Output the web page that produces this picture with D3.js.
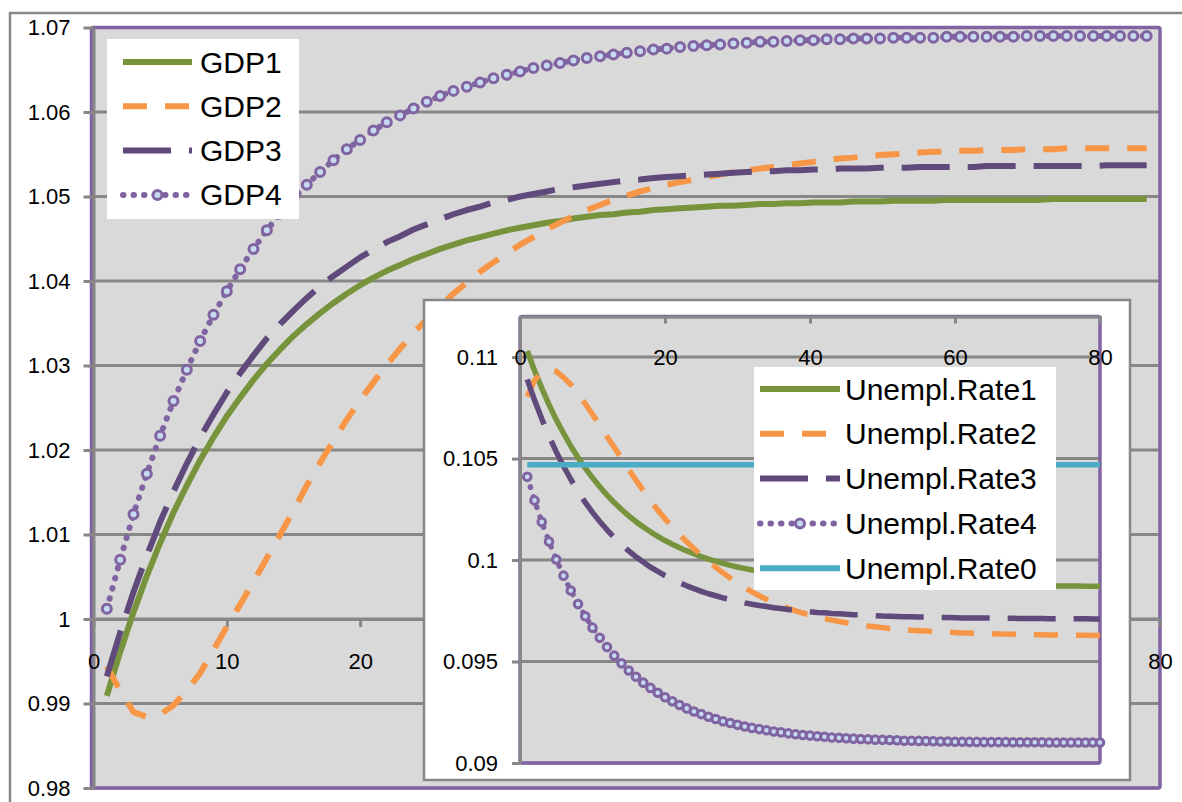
<!DOCTYPE html>
<html>
<head>
<meta charset="utf-8">
<script src="https://cdn.jsdelivr.net/npm/d3@7"></script>
<style>
  body { margin: 0; background: #fff; }
  svg { display: block; }
</style>
</head>
<body>
<svg id="chart"></svg>
<script>
// ---- data (period 1..79 for GDP, 1..80 for the unemployment inset)
const gdpNames = ["GDP1", "GDP2", "GDP3", "GDP4"]
const gdp1 = [0.9909,0.9961,1.0008,1.0051,1.0090,1.0126,1.0158,1.0188,1.0215,1.0240,
  1.0262,1.0283,1.0302,1.0319,1.0335,1.0349,1.0362,1.0374,1.0385,1.0395,
  1.0404,1.0412,1.0419,1.0426,1.0432,1.0438,1.0443,1.0448,1.0452,1.0456,
  1.0460,1.0463,1.0466,1.0469,1.0471,1.0474,1.0476,1.0478,1.0479,1.0481,
  1.0482,1.0484,1.0485,1.0486,1.0487,1.0488,1.0489,1.0489,1.0490,1.0491,
  1.0491,1.0492,1.0492,1.0493,1.0493,1.0493,1.0494,1.0494,1.0494,1.0495,
  1.0495,1.0495,1.0495,1.0496,1.0496,1.0496,1.0496,1.0496,1.0496,1.0496,
  1.0496,1.0497,1.0497,1.0497,1.0497,1.0497,1.0497,1.0497,1.0497]
const gdp2 = [0.9944,0.9915,0.9890,0.9884,0.9887,0.9898,0.9915,0.9936,0.9963,0.9991,
  1.0017,1.0044,1.0072,1.0100,1.0128,1.0158,1.0185,1.0211,1.0236,1.0259,
  1.0280,1.0301,1.0320,1.0338,1.0355,1.0370,1.0385,1.0398,1.0411,1.0422,
  1.0433,1.0443,1.0452,1.0461,1.0469,1.0477,1.0484,1.0490,1.0496,1.0501,
  1.0506,1.0510,1.0514,1.0517,1.0520,1.0523,1.0526,1.0529,1.0531,1.0533,
  1.0535,1.0537,1.0539,1.0541,1.0543,1.0545,1.0546,1.0548,1.0549,1.0550,
  1.0551,1.0552,1.0553,1.0553,1.0554,1.0554,1.0555,1.0555,1.0555,1.0556,
  1.0556,1.0556,1.0557,1.0557,1.0557,1.0557,1.0557,1.0557,1.0557]
const gdp3 = [0.9932,0.9984,1.0032,1.0075,1.0115,1.0151,1.0184,1.0215,1.0242,1.0268,
  1.0291,1.0312,1.0332,1.0349,1.0365,1.0380,1.0394,1.0406,1.0417,1.0428,
  1.0437,1.0446,1.0453,1.0461,1.0467,1.0473,1.0479,1.0484,1.0488,1.0493,
  1.0496,1.0500,1.0503,1.0506,1.0509,1.0511,1.0513,1.0515,1.0517,1.0519,
  1.0520,1.0522,1.0523,1.0524,1.0525,1.0526,1.0527,1.0528,1.0529,1.0530,
  1.0530,1.0531,1.0531,1.0532,1.0532,1.0533,1.0533,1.0533,1.0534,1.0534,
  1.0534,1.0535,1.0535,1.0535,1.0535,1.0535,1.0536,1.0536,1.0536,1.0536,
  1.0536,1.0536,1.0536,1.0536,1.0536,1.0537,1.0537,1.0537,1.0537]
const gdp4 = [1.0012,1.0070,1.0124,1.0172,1.0217,1.0258,1.0295,1.0329,1.0360,1.0388,
  1.0414,1.0438,1.0460,1.0480,1.0498,1.0514,1.0529,1.0543,1.0556,1.0567,
  1.0578,1.0588,1.0596,1.0604,1.0612,1.0619,1.0625,1.0630,1.0635,1.0640,
  1.0644,1.0648,1.0652,1.0655,1.0658,1.0661,1.0664,1.0666,1.0668,1.0670,
  1.0672,1.0674,1.0675,1.0677,1.0678,1.0679,1.0680,1.0681,1.0682,1.0683,
  1.0683,1.0684,1.0685,1.0685,1.0686,1.0686,1.0687,1.0687,1.0687,1.0688,
  1.0688,1.0688,1.0688,1.0689,1.0689,1.0689,1.0689,1.0689,1.0689,1.0690,
  1.0690,1.0690,1.0690,1.0690,1.0690,1.0690,1.0690,1.0690,1.0690]

const rateNames = ["Unempl.Rate1", "Unempl.Rate2", "Unempl.Rate3", "Unempl.Rate4", "Unempl.Rate0"]
const rate1 = [0.11030,0.10934,0.10847,0.10766,0.10692,0.10625,0.10562,0.10505,0.10453,0.10405,
  0.10361,0.10320,0.10283,0.10249,0.10218,0.10189,0.10163,0.10139,0.10117,0.10096,
  0.10078,0.10061,0.10045,0.10031,0.10017,0.10005,0.09994,0.09984,0.09974,0.09966,
  0.09958,0.09951,0.09944,0.09938,0.09932,0.09927,0.09922,0.09918,0.09914,0.09911,
  0.09907,0.09904,0.09901,0.09899,0.09896,0.09894,0.09892,0.09890,0.09889,0.09887,
  0.09886,0.09884,0.09883,0.09882,0.09881,0.09880,0.09879,0.09879,0.09878,0.09877,
  0.09877,0.09876,0.09876,0.09875,0.09875,0.09874,0.09874,0.09874,0.09873,0.09873,
  0.09873,0.09873,0.09872,0.09872,0.09872,0.09872,0.09872,0.09871,0.09871,0.09871]
const rate2 = [0.10805,0.10885,0.10925,0.10940,0.10930,0.10900,0.10865,0.10820,0.10770,0.10718,
  0.10663,0.10608,0.10556,0.10500,0.10446,0.10393,0.10342,0.10292,0.10246,0.10203,
  0.10164,0.10126,0.10090,0.10056,0.10023,0.09993,0.09964,0.09937,0.09911,0.09887,
  0.09864,0.09843,0.09824,0.09806,0.09790,0.09775,0.09762,0.09750,0.09739,0.09729,
  0.09720,0.09712,0.09704,0.09697,0.09691,0.09685,0.09680,0.09675,0.09671,0.09667,
  0.09663,0.09660,0.09657,0.09654,0.09652,0.09650,0.09648,0.09646,0.09644,0.09643,
  0.09641,0.09640,0.09639,0.09638,0.09637,0.09636,0.09635,0.09634,0.09634,0.09633,
  0.09632,0.09632,0.09631,0.09631,0.09630,0.09630,0.09629,0.09629,0.09628,0.09628]
const rate3 = [0.10890,0.10788,0.10696,0.10611,0.10533,0.10462,0.10398,0.10338,0.10284,0.10235,
  0.10190,0.10149,0.10111,0.10076,0.10045,0.10016,0.09990,0.09965,0.09944,0.09923,
  0.09905,0.09888,0.09873,0.09859,0.09846,0.09834,0.09824,0.09814,0.09805,0.09797,
  0.09789,0.09782,0.09776,0.09771,0.09765,0.09761,0.09756,0.09752,0.09749,0.09745,
  0.09742,0.09740,0.09737,0.09735,0.09733,0.09731,0.09729,0.09727,0.09726,0.09724,
  0.09723,0.09722,0.09721,0.09720,0.09719,0.09719,0.09718,0.09717,0.09717,0.09716,
  0.09715,0.09715,0.09714,0.09714,0.09714,0.09713,0.09713,0.09713,0.09712,0.09712,
  0.09712,0.09712,0.09711,0.09711,0.09711,0.09711,0.09711,0.09711,0.09710,0.09710]
const rate4 = [0.10410,0.10294,0.10188,0.10091,0.10003,0.09923,0.09850,0.09783,0.09723,0.09667,
  0.09617,0.09571,0.09529,0.09491,0.09456,0.09425,0.09396,0.09370,0.09346,0.09324,
  0.09304,0.09286,0.09269,0.09254,0.09241,0.09228,0.09217,0.09206,0.09197,0.09188,
  0.09180,0.09173,0.09167,0.09161,0.09155,0.09151,0.09146,0.09142,0.09138,0.09135,
  0.09132,0.09129,0.09126,0.09124,0.09122,0.09120,0.09118,0.09117,0.09115,0.09114,
  0.09113,0.09112,0.09110,0.09110,0.09109,0.09108,0.09107,0.09106,0.09106,0.09105,
  0.09105,0.09104,0.09104,0.09103,0.09103,0.09103,0.09103,0.09102,0.09102,0.09102,
  0.09102,0.09102,0.09101,0.09101,0.09101,0.09101,0.09101,0.09101,0.09101,0.09101]
const rate0 = [0.1047,0.1047,0.1047,0.1047,0.1047,0.1047,0.1047,0.1047,0.1047,0.1047,
  0.1047,0.1047,0.1047,0.1047,0.1047,0.1047,0.1047,0.1047,0.1047,0.1047,
  0.1047,0.1047,0.1047,0.1047,0.1047,0.1047,0.1047,0.1047,0.1047,0.1047,
  0.1047,0.1047,0.1047,0.1047,0.1047,0.1047,0.1047,0.1047,0.1047,0.1047,
  0.1047,0.1047,0.1047,0.1047,0.1047,0.1047,0.1047,0.1047,0.1047,0.1047,
  0.1047,0.1047,0.1047,0.1047,0.1047,0.1047,0.1047,0.1047,0.1047,0.1047,
  0.1047,0.1047,0.1047,0.1047,0.1047,0.1047,0.1047,0.1047,0.1047,0.1047,
  0.1047,0.1047,0.1047,0.1047,0.1047,0.1047,0.1047,0.1047,0.1047,0.1047]

const gdpTicks = [0.98, 0.99, 1, 1.01, 1.02, 1.03, 1.04, 1.05, 1.06, 1.07]
const gdpPeriodTicks = [0, 10, 20, 30, 40, 50, 60, 70, 80]
const rateTicks = [0.09, 0.095, 0.1, 0.105, 0.11]
const ratePeriodTicks = [0, 20, 40, 60, 80]

// ---- look
const color_green = "#77933c"
const color_orange = "#f79646"
const color_darkPurple = "#604a7b"
const color_purple = "#8064a2"
const color_cyan = "#4bacc6"
const color_markerFill = "#c6d9f1"
const color_plot = "#d9d9d9"
const color_grid = "#878787"
const font = "'Liberation Sans', Arial, Helvetica, sans-serif"

const dashes = { solid: null, dash: "24,18", longDash: "48,18", roundDot: "0.5,10" }

const gdpSeries = [
    { name: gdpNames[0], values: gdp1, color: color_green, dash: dashes.solid },
    { name: gdpNames[1], values: gdp2, color: color_orange, dash: dashes.dash },
    { name: gdpNames[2], values: gdp3, color: color_darkPurple, dash: dashes.longDash },
    { name: gdpNames[3], values: gdp4, color: color_purple, dash: dashes.roundDot, marker: 4.5 },
]
const rateSeries = [
    { name: rateNames[0], values: rate1, color: color_green, dash: dashes.solid },
    { name: rateNames[1], values: rate2, color: color_orange, dash: dashes.dash },
    { name: rateNames[2], values: rate3, color: color_darkPurple, dash: dashes.longDash },
    { name: rateNames[3], values: rate4, color: color_purple, dash: dashes.roundDot, marker: 3.8 },
    { name: rateNames[4], values: rate0, color: color_cyan, dash: dashes.solid },
]

// inset box, the main chart's period labels behind it are not visible
const insetBox = { x: 424, y: 300, w: 706, h: 480 }

const fmt = d => String(+d.toFixed(3))

const svg = d3.select("svg#chart").attr("width", 1182).attr("height", 802)

// outer chart area frame
svg.append("rect")
    .attr("x", 10).attr("y", 13).attr("width", 1200).attr("height", 820)
    .style("fill", "#fff").style("stroke", color_grid).style("stroke-width", 2.5)

// ---- main chart
const x = d3.scaleLinear().domain([0, 80]).range([93.5, 1160])
const y = d3.scaleLinear().domain([0.98, 1.07]).range([788, 27.5])
drawPlot(svg, x, y, {
    ticks: gdpTicks, periodTicks: gdpPeriodTicks, xAxisAt: y(1),
    yTickSize: 10, yPad: 13, xTickSize: 8, xPad: 26, borderShift: -2,
    periodFormat: d => (x(d) > insetBox.x && x(d) < insetBox.x + insetBox.w) ? "" : fmt(d)
})
const mainLines = svg.append("g").attr("id", "mainLines")
gdpSeries.forEach(s => drawSeries(mainLines, x, y, s, 6))
drawLegend(svg, gdpSeries, { x: 107, y: 39, w: 192, h: 180, row0: 62, step: 44.3, s1: 123, s2: 192, tx: 200 })

// ---- inset chart
svg.append("rect")
    .attr("x", insetBox.x).attr("y", insetBox.y).attr("width", insetBox.w).attr("height", insetBox.h)
    .style("fill", "#fff").style("stroke", color_grid).style("stroke-width", 2.5)
const ix = d3.scaleLinear().domain([0, 80]).range([520, 1100])
const iy = d3.scaleLinear().domain([0.09, 0.112]).range([763, 316.5])
drawPlot(svg, ix, iy, {
    ticks: rateTicks, periodTicks: ratePeriodTicks, xAxisAt: iy.range()[1],
    yTickSize: 8, yPad: 14, xTickSize: 7, xPad: 26, borderShift: 0, periodFormat: fmt
})
const insetLines = svg.append("g").attr("id", "insetLines")
rateSeries.forEach(s => drawSeries(insetLines, ix, iy, s, 5.5))
drawLegend(svg, rateSeries, { x: 754, y: 367, w: 302, h: 223, row0: 389, step: 44.8, s1: 760, s2: 840, tx: 845 })


function drawPlot(parent, xs, ys, o) {
    const g = parent.append("g")
    const [x0, x1] = xs.range()
    const [yb, yt] = ys.range()
    g.append("rect")
        .attr("x", x0).attr("y", yt).attr("width", x1 - x0).attr("height", yb - yt)
        .style("fill", color_plot)
    // horizontal gridlines
    g.selectAll("line.grid").data(o.ticks).join("line")
        .attr("class", "grid")
        .attr("x1", x0).attr("x2", x1)
        .attr("y1", d => ys(d)).attr("y2", d => ys(d))
        .style("stroke", color_grid).style("stroke-width", 3)
    // purple plot border
    g.append("rect")
        .attr("x", x0 + o.borderShift).attr("y", yt).attr("width", x1 - x0 - o.borderShift).attr("height", yb - yt)
        .attr("rx", 2)
        .style("fill", "none").style("stroke", color_purple).style("stroke-width", 3.5)

    const yAxis = g.append("g").attr("transform", `translate(${x0},0)`)
        .call(d3.axisLeft(ys).tickValues(o.ticks).tickSize(o.yTickSize).tickSizeOuter(0)
            .tickPadding(o.yPad).tickFormat(fmt))
    const xAxis = g.append("g").attr("transform", `translate(0,${o.xAxisAt})`)
        .call(d3.axisBottom(xs).tickValues(o.periodTicks).tickSize(o.xTickSize).tickSizeOuter(0)
            .tickPadding(o.xPad).tickFormat(o.periodFormat))
    ;[yAxis, xAxis].forEach(a => {
        a.select(".domain").style("stroke", color_grid).style("stroke-width", 3)
        a.selectAll(".tick line").style("stroke", color_grid).style("stroke-width", 3)
        a.selectAll(".tick text").style("font-family", font).style("font-size", "22px").style("fill", "#000")
    })
}

function drawSeries(g, xs, ys, s, width) {
    const line = d3.line().x((d, i) => xs(i + 1)).y(d => ys(d))
    g.append("path")
        .datum(s.values)
        .attr("d", line)
        .style("fill", "none")
        .style("stroke", s.color)
        .style("stroke-width", width)
        .style("stroke-dasharray", s.dash)
        .style("stroke-linecap", s.marker ? "round" : "butt")
        .style("stroke-linejoin", "round")
    if (s.marker) {
        g.append("g").selectAll("circle").data(s.values).join("circle")
            .attr("cx", (d, i) => xs(i + 1))
            .attr("cy", d => ys(d))
            .attr("r", s.marker)
            .style("fill", color_markerFill)
            .style("stroke", s.color)
            .style("stroke-width", 3)
    }
}

function drawLegend(parent, series, o) {
    const g = parent.append("g")
    g.append("rect").attr("x", o.x).attr("y", o.y).attr("width", o.w).attr("height", o.h).style("fill", "#fff")
    series.forEach((s, i) => {
        const ry = o.row0 + i * o.step
        g.append("line")
            .attr("x1", o.s1).attr("x2", o.s2).attr("y1", ry).attr("y2", ry)
            .style("stroke", s.color)
            .style("stroke-width", 6)
            .style("stroke-dasharray", s.dash)
            .style("stroke-linecap", s.marker ? "round" : "butt")
        if (s.marker) {
            g.append("circle")
                .attr("cx", (o.s1 + o.s2) / 2).attr("cy", ry).attr("r", 4.5)
                .style("fill", color_markerFill).style("stroke", s.color).style("stroke-width", 3)
        }
        g.append("text")
            .attr("x", o.tx).attr("y", ry).attr("dy", "0.35em")
            .text(s.name)
            .style("font-family", font).style("font-size", "30px").style("fill", "#000")
    })
}
</script>
</body>
</html>
